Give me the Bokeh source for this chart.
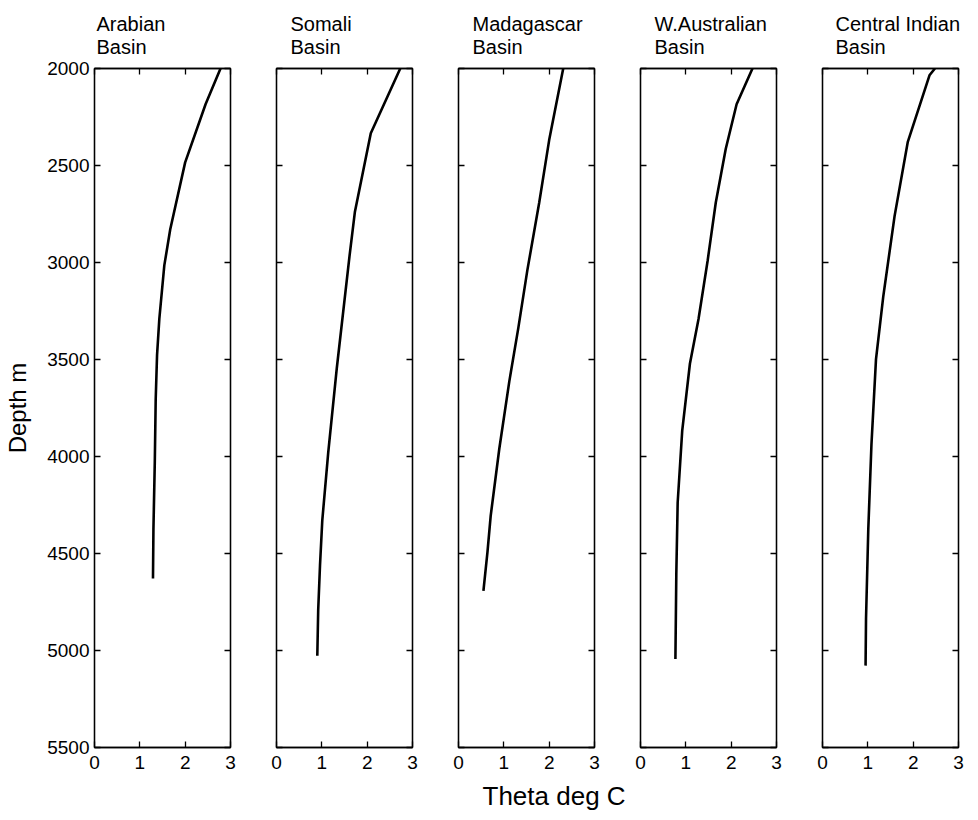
from bokeh.plotting import figure
from bokeh.models import Range1d, FixedTicker, LinearAxis, Title
from bokeh.layouts import row
from bokeh.embed import file_html
from bokeh.resources import INLINE

# ---- data ----
names_line1 = ["Arabian", "Somali", "Madagascar", "W.Australian", "Central Indian"]
names_line2 = ["Basin", "Basin", "Basin", "Basin", "Basin"]

arabian_theta = [2.78, 2.45, 2.00, 1.67, 1.54, 1.43, 1.38, 1.35, 1.33, 1.30, 1.29]
arabian_depth = [2000, 2184, 2484, 2830, 3015, 3291, 3476, 3706, 4029, 4375, 4629]

somali_theta = [2.73, 2.08, 1.73, 1.61, 1.33, 1.14, 1.01, 0.96, 0.92, 0.90]
somali_depth = [2000, 2334, 2738, 2968, 3545, 3983, 4329, 4559, 4790, 5027]

madagascar_theta = [2.31, 2.00, 1.78, 1.52, 1.32, 1.12, 0.90, 0.71, 0.64, 0.55]
madagascar_depth = [2000, 2369, 2692, 3038, 3337, 3614, 3960, 4306, 4490, 4693]

waustralian_theta = [2.47, 2.12, 1.88, 1.66, 1.48, 1.28, 1.09, 0.92, 0.82, 0.79, 0.77]
waustralian_depth = [2000, 2184, 2415, 2692, 2992, 3291, 3522, 3868, 4237, 4606, 5044]

central_theta = [2.48, 2.36, 1.88, 1.59, 1.34, 1.18, 1.08, 1.01, 0.96, 0.95]
central_depth = [2000, 2035, 2380, 2761, 3176, 3499, 3937, 4375, 4836, 5078]

x_ticks = [0, 1, 2, 3]
y_ticks = [2000, 2500, 3000, 3500, 4000, 4500, 5000, 5500]
x_label = "Theta deg C"
y_label = "Depth m"

thetas = [arabian_theta, somali_theta, madagascar_theta, waustralian_theta, central_theta]
depths = [arabian_depth, somali_depth, madagascar_depth, waustralian_depth, central_depth]

FONT = "Liberation Sans"
TICK_FS = "19px"
TITLE_FS = "20px"
YLABEL_FS = "24px"
XLABEL_FS = "26px"

borders_left = [94, 23, 23, 6, 23]
borders_right = [23, 23, 40, 23, 12]
title_offsets = [2, 14, 14, 14, 13]


def style_axis(ax, show_labels):
    ax.axis_line_color = "black"
    ax.axis_line_width = 1.3
    ax.major_tick_in = 6
    ax.major_tick_out = 0
    ax.minor_tick_in = 0
    ax.minor_tick_out = 0
    ax.major_tick_line_color = "black"
    ax.major_tick_line_width = 1.3
    if show_labels:
        ax.major_label_text_font = FONT
        ax.major_label_text_font_size = TICK_FS
        ax.major_label_text_color = "black"
    else:
        ax.major_label_text_font_size = "1px"
        ax.major_label_standoff = 0
        ax.major_label_text_alpha = 0


figs = []
for i in range(5):
    p = figure(
        frame_width=136, frame_height=679,
        x_range=Range1d(0, 3), y_range=Range1d(5500, 2000),
        output_backend="svg", toolbar_location=None, title=None,
        min_border_left=borders_left[i], min_border_right=borders_right[i],
        min_border_top=68, min_border_bottom=72,
    )
    p.grid.visible = False
    p.outline_line_color = "black"
    p.outline_line_width = 1.3
    p.background_fill_color = "white"
    p.border_fill_color = "white"

    p.xaxis.ticker = FixedTicker(ticks=x_ticks)
    p.yaxis.ticker = FixedTicker(ticks=y_ticks)
    style_axis(p.xaxis[0], True)
    p.xaxis.major_label_standoff = 8
    style_axis(p.yaxis[0], i == 0)
    if i == 0:
        p.yaxis.major_label_standoff = 5
        p.yaxis.axis_label = y_label
        p.yaxis.axis_label_text_font = FONT
        p.yaxis.axis_label_text_font_size = YLABEL_FS
        p.yaxis.axis_label_text_font_style = "normal"
        p.yaxis.axis_label_text_color = "black"
        p.yaxis.axis_label_standoff = 13

    ra = LinearAxis(ticker=FixedTicker(ticks=y_ticks))
    style_axis(ra, False)
    p.add_layout(ra, "right")
    ta = LinearAxis(ticker=FixedTicker(ticks=x_ticks))
    style_axis(ta, False)
    p.add_layout(ta, "above")

    p.add_layout(Title(text=names_line1[i] + "\n" + names_line2[i], align="left",
                       offset=title_offsets[i], text_font=FONT, text_font_size=TITLE_FS,
                       text_color="black", text_font_style="normal",
                       text_line_height=1.08, standoff=20), "above")

    if i == 2:
        p.add_layout(Title(text=x_label, align="left", offset=24,
                           text_font=FONT, text_font_size=XLABEL_FS, text_color="black",
                           text_font_style="normal", standoff=14), "below")

    p.line(thetas[i], depths[i], line_color="black", line_width=2.6)
    figs.append(p)

layout = row(*figs, spacing=0)
open("out.html", "w").write(file_html(layout, INLINE))
